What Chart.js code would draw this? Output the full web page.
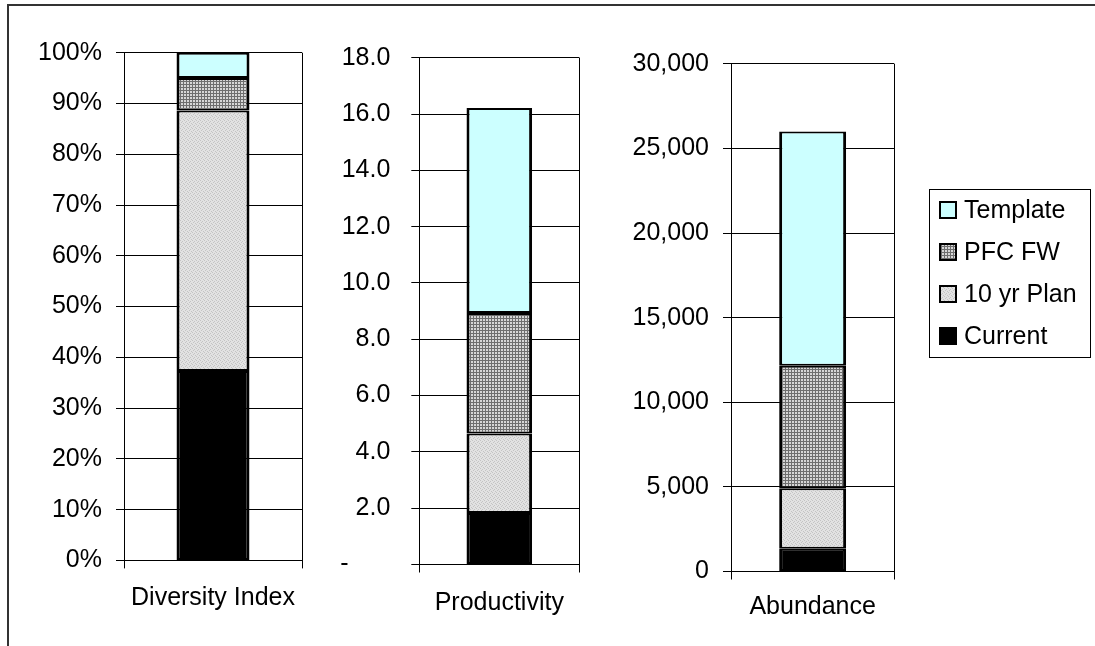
<!DOCTYPE html>
<html>
<head>
<meta charset="utf-8">
<script src="https://cdn.jsdelivr.net/npm/chart.js@4.4.0/dist/chart.umd.min.js"></script>
<style>
  html, body { margin: 0; padding: 0; background: #fff; }
  #wrap { position: relative; width: 1095px; height: 646px; overflow: hidden; }
  #frame { position: absolute; left: 7px; top: 4px; right: -10px; bottom: -10px;
           border-left: 2px solid #333; border-top: 2px solid #333; }
  canvas { position: absolute; top: 0; }
</style>
</head>
<body>
<div id="wrap">
  <div id="frame"></div>
  <canvas id="diversity" width="320" height="646" style="left:0px"></canvas>
  <canvas id="productivity" width="300" height="646" style="left:320px"></canvas>
  <canvas id="abundance" width="475" height="646" style="left:620px"></canvas>
</div>
<script>
// series, bottom to top
const seriesNames = ['Current', '10 yr Plan', 'PFC FW', 'Template'];

const diversityCategory = ['Diversity Index'];
const diversityValues = [37.3, 51.3, 6.4, 5.0];
const diversityTicks = ['0%', '10%', '20%', '30%', '40%', '50%', '60%', '70%', '80%', '90%', '100%'];

const productivityCategory = ['Productivity'];
const productivityValues = [1.83, 2.82, 4.28, 7.28];
const productivityTicks = ['-      ', '2.0', '4.0', '6.0', '8.0', '10.0', '12.0', '14.0', '16.0', '18.0'];

const abundanceCategory = ['Abundance'];
const abundanceValues = [1340, 3580, 7240, 13840];
const abundanceTicks = ['0', '5,000', '10,000', '15,000', '20,000', '25,000', '30,000'];

const FONT = 'Liberation Sans, Arial, sans-serif';

function makePattern(size, draw) {
  const c = document.createElement('canvas');
  c.width = size; c.height = size;
  const g = c.getContext('2d');
  draw(g);
  return g.createPattern(c, 'repeat');
}

// fine light grey speckle for 10 yr Plan
const planFill = makePattern(4, g => {
  g.fillStyle = '#e2e2e2';
  g.fillRect(0, 0, 4, 4);
  g.fillStyle = '#c4c4c4';
  g.fillRect(0, 0, 1, 1);
  g.fillRect(2, 1, 1, 1);
  g.fillRect(1, 2, 1, 1);
  g.fillRect(3, 3, 1, 1);
});

// small grid for PFC FW
const pfcFill = makePattern(3, g => {
  g.fillStyle = '#d6d6d6';
  g.fillRect(0, 0, 3, 3);
  g.fillStyle = '#6e6e6e';
  g.fillRect(0, 0, 3, 1);
  g.fillRect(0, 0, 1, 3);
});

const fills = ['#000000', planFill, pfcFill, '#ccffff'];

function buildDatasets(values) {
  return seriesNames.map((name, i) => ({
    label: name,
    data: [values[i]],
    backgroundColor: fills[i],
    borderColor: '#000',
    borderWidth: { left: 3, right: 3, top: 2, bottom: 2 },
    borderSkipped: false,
    barPercentage: 0.41,
    categoryPercentage: 1.0
  }));
}

// legend box drawn at the right of the last chart
const boxLegend = {
  id: 'boxLegend',
  afterDraw(chart) {
    const ctx = chart.ctx;
    const x0 = 309, y0 = 189, w = 161, h = 168;
    ctx.save();
    ctx.strokeStyle = '#000';
    ctx.lineWidth = 1;
    ctx.strokeRect(x0 + 0.5, y0 + 0.5, w, h);
    ctx.font = '25px ' + FONT;
    ctx.textBaseline = 'middle';
    const items = chart.data.datasets.slice().reverse();
    items.forEach((ds, i) => {
      const cy = 210 + i * 42;
      ctx.fillStyle = ds.backgroundColor;
      ctx.fillRect(319, cy - 9, 18, 18);
      ctx.lineWidth = 2;
      ctx.strokeStyle = '#000';
      ctx.strokeRect(320, cy - 8, 16, 16);
      ctx.fillStyle = '#000';
      ctx.fillText(ds.label, 344, cy + 1);
    });
    ctx.restore();
  }
};

function makeChart(id, labels, values, yMax, step, tickLabels, opt) {
  return new Chart(document.getElementById(id), {
    type: 'bar',
    data: { labels: labels, datasets: buildDatasets(values) },
    options: {
      responsive: false,
      animation: false,
      devicePixelRatio: 1,
      layout: { padding: { left: 0, right: opt.right, top: opt.top, bottom: 0 } },
      plugins: { legend: { display: false }, tooltip: { enabled: false } },
      scales: {
        x: {
          stacked: true,
          grid: { color: '#000', lineWidth: 1, tickLength: 8, offset: true },
          border: { color: '#000' },
          ticks: { color: '#000', font: { family: FONT, size: 25 }, padding: opt.xPad },
          afterFit: s => { s.height = 646 - opt.bottom; }
        },
        y: {
          stacked: true,
          min: 0,
          max: yMax,
          grid: { color: '#000', lineWidth: 1, tickLength: 8 },
          border: { color: '#000' },
          ticks: {
            stepSize: step,
            color: '#000',
            font: { family: FONT, size: 25 },
            padding: opt.yPad,
            callback: (v, i) => tickLabels[i]
          },
          afterFit: s => { s.width = opt.left; }
        }
      }
    },
    plugins: opt.plugins || []
  });
}

makeChart('diversity', diversityCategory, diversityValues, 100, 10, diversityTicks,
  { left: 124, right: 18, top: 52.7, bottom: 560.4, xPad: 15, yPad: 14 });
makeChart('productivity', productivityCategory, productivityValues, 18, 2, productivityTicks,
  { left: 99.3, right: 40.7, top: 57.7, bottom: 564.5, xPad: 16, yPad: 21 });
makeChart('abundance', abundanceCategory, abundanceValues, 30000, 5000, abundanceTicks,
  { left: 111, right: 200.7, top: 63.9, bottom: 571.5, xPad: 13, yPad: 14, plugins: [boxLegend] });
</script>
</body>
</html>
